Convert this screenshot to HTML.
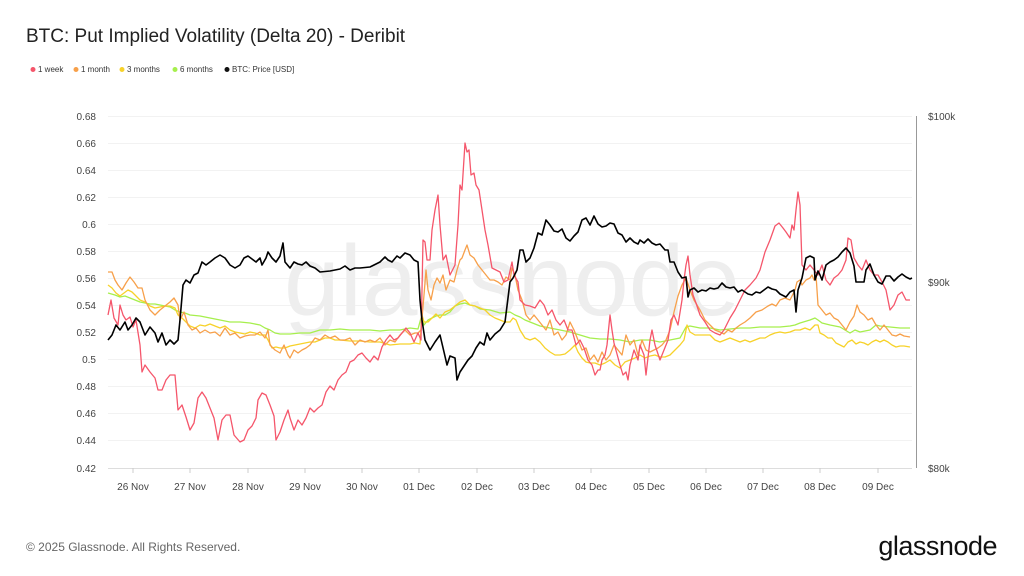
<!DOCTYPE html>
<html><head><meta charset="utf-8"><style>
body{margin:0;background:#fff;}
svg{display:block;font-family:"Liberation Sans",sans-serif;}
</style></head><body>
<svg width="1024" height="576" viewBox="0 0 1024 576" xmlns="http://www.w3.org/2000/svg">
<rect width="1024" height="576" fill="#fff"/>
<text x="26" y="42" font-size="19" fill="#222">BTC: Put Implied Volatility (Delta 20) - Deribit</text>
<g font-size="8" fill="#333">
<circle cx="33" cy="69.5" r="2.5" fill="#f5566b"/><text x="38" y="72">1 week</text>
<circle cx="76" cy="69.5" r="2.5" fill="#f7a04a"/><text x="81" y="72">1 month</text>
<circle cx="122" cy="69.5" r="2.5" fill="#f7d22a"/><text x="127" y="72">3 months</text>
<circle cx="175" cy="69.5" r="2.5" fill="#a6ef4d"/><text x="180" y="72">6 months</text>
<circle cx="227" cy="69.5" r="2.5" fill="#111"/><text x="232" y="72">BTC: Price [USD]</text>
</g>
<g stroke="#f2f2f2" stroke-width="1">
<line x1="108" x2="912" y1="116.5" y2="116.5"/><line x1="108" x2="912" y1="143.5" y2="143.5"/><line x1="108" x2="912" y1="170.5" y2="170.5"/><line x1="108" x2="912" y1="197.5" y2="197.5"/><line x1="108" x2="912" y1="224.5" y2="224.5"/><line x1="108" x2="912" y1="251.5" y2="251.5"/><line x1="108" x2="912" y1="278.5" y2="278.5"/><line x1="108" x2="912" y1="305.5" y2="305.5"/><line x1="108" x2="912" y1="332.5" y2="332.5"/><line x1="108" x2="912" y1="359.5" y2="359.5"/><line x1="108" x2="912" y1="386.5" y2="386.5"/><line x1="108" x2="912" y1="413.5" y2="413.5"/><line x1="108" x2="912" y1="440.5" y2="440.5"/>
</g>
<line x1="108" x2="912" y1="468.5" y2="468.5" stroke="#ddd"/>
<line x1="916.5" x2="916.5" y1="116" y2="468" stroke="#999"/>
<g font-size="10" fill="#444" text-anchor="end">
<text x="96" y="120">0.68</text><text x="96" y="147">0.66</text><text x="96" y="174">0.64</text><text x="96" y="201">0.62</text><text x="96" y="228">0.6</text><text x="96" y="255">0.58</text><text x="96" y="282">0.56</text><text x="96" y="309">0.54</text><text x="96" y="336">0.52</text><text x="96" y="363">0.5</text><text x="96" y="390">0.48</text><text x="96" y="417">0.46</text><text x="96" y="444">0.44</text><text x="96" y="472">0.42</text>
</g>
<g font-size="10" fill="#444">
<text x="928" y="120">$100k</text><text x="928" y="286">$90k</text><text x="928" y="472">$80k</text>
</g>
<g font-size="10" fill="#444" text-anchor="middle">
<text x="133" y="490">26 Nov</text><text x="190" y="490">27 Nov</text><text x="248" y="490">28 Nov</text><text x="305" y="490">29 Nov</text><text x="362" y="490">30 Nov</text><text x="419" y="490">01 Dec</text><text x="477" y="490">02 Dec</text><text x="534" y="490">03 Dec</text><text x="591" y="490">04 Dec</text><text x="649" y="490">05 Dec</text><text x="706" y="490">06 Dec</text><text x="763" y="490">07 Dec</text><text x="820" y="490">08 Dec</text><text x="878" y="490">09 Dec</text>
</g>
<g stroke="#ccc"><line x1="133" x2="133" y1="468" y2="473"/><line x1="190" x2="190" y1="468" y2="473"/><line x1="248" x2="248" y1="468" y2="473"/><line x1="305" x2="305" y1="468" y2="473"/><line x1="362" x2="362" y1="468" y2="473"/><line x1="419" x2="419" y1="468" y2="473"/><line x1="477" x2="477" y1="468" y2="473"/><line x1="534" x2="534" y1="468" y2="473"/><line x1="591" x2="591" y1="468" y2="473"/><line x1="649" x2="649" y1="468" y2="473"/><line x1="706" x2="706" y1="468" y2="473"/><line x1="763" x2="763" y1="468" y2="473"/><line x1="820" x2="820" y1="468" y2="473"/><line x1="878" x2="878" y1="468" y2="473"/></g>
<text x="512" y="315" font-size="100" fill="#eeeeee" text-anchor="middle">glassnode</text>
<g fill="none" stroke-width="1.3" stroke-linejoin="round">
<polyline stroke="#a6ef4d" points="108,293 115,295 120,297 125,296 130,298 135,300 140,302 145,303 150,304 155,304 160,305 165,306 170,307 175,310 180,312 185,313 190,315 200,316 210,318 220,320 230,322 240,322 250,323 260,325 265,328 270,330 275,333 280,334 290,334 300,333 310,333 320,330 330,330 340,329 350,330 360,330 370,330 380,331 390,330 400,330 410,328 418,329 421,318 424,325 428,320 432,318 436,316 440,315 445,315 450,312 455,306 460,304 465,303 470,305 475,306 480,309 490,310 500,313 510,312 515,315 520,317 525,320 530,322 540,326 550,328 560,330 570,332 580,335 590,338 600,339 610,339 620,340 630,342 640,340 650,340 660,342 670,340 680,338 686,327 690,326 700,328 710,328 720,330 730,329 740,328 750,328 760,327 770,327 780,327 790,326 795,325 800,323 810,320 815,318 818,320 822,323 830,325 840,327 845,330 850,333 855,330 860,332 870,330 876,325 880,326 890,327 900,328 910,328"/>
<polyline stroke="#f7d22a" points="108,285 112,288 116,293 120,296 124,293 128,290 132,292 136,296 140,300 145,302 150,306 155,308 160,307 165,306 170,306 175,308 178,315 182,318 186,322 190,326 195,328 200,325 205,326 210,324 215,326 220,328 225,326 230,330 235,332 240,333 245,334 250,332 255,333 260,335 265,335 268,340 272,348 276,347 280,348 285,348 290,346 295,345 300,344 305,343 310,342 315,342 320,340 325,338 330,338 335,340 340,340 350,341 360,341 370,342 380,342 390,345 400,344 410,344 415,343 420,344 422,315 424,322 428,322 432,318 436,314 440,318 445,312 450,310 455,306 460,302 465,300 470,305 475,306 480,308 485,310 490,315 495,318 500,320 505,322 510,322 513,318 516,320 520,330 525,338 530,340 535,338 540,342 545,348 550,352 555,355 560,355 565,354 570,350 575,345 578,352 582,358 586,362 590,363 595,363 600,365 605,363 610,360 615,365 620,368 625,362 630,360 635,358 640,355 645,358 650,356 655,355 660,357 665,357 670,355 675,350 680,345 684,340 687,325 690,332 695,335 700,335 705,335 710,335 715,340 720,342 725,340 730,338 735,340 740,342 745,340 750,342 755,340 760,338 765,338 770,335 775,333 780,332 785,333 790,332 795,330 800,330 805,328 810,330 815,325 818,325 820,333 824,335 828,338 832,338 836,343 840,345 844,347 848,342 852,340 856,344 860,342 864,343 868,345 872,342 876,340 880,342 884,340 888,342 892,345 896,347 900,346 904,346 910,347"/>
<polyline stroke="#f7a04a" points="108,272 112,272 115,280 118,285 122,290 126,283 130,277 134,282 138,288 142,288 145,300 150,310 155,315 160,310 165,306 170,302 174,298 178,305 180,320 184,312 188,325 192,330 196,328 200,333 205,330 210,333 215,332 220,336 225,328 230,335 235,333 240,338 245,336 250,335 255,335 260,332 265,338 268,330 270,345 275,350 280,353 284,345 288,355 290,358 294,350 298,353 302,350 306,348 310,345 315,338 320,340 325,335 330,338 335,336 340,340 345,340 350,338 355,345 360,340 365,342 370,340 375,342 380,338 385,345 390,340 395,342 400,335 405,330 410,335 415,333 418,333 421,330 424,295 426,270 428,290 431,300 434,285 437,278 440,283 443,275 446,290 450,280 454,282 457,270 460,260 462,258 465,250 467,245 470,255 474,258 478,265 482,270 486,275 490,280 494,280 498,282 502,285 506,277 510,280 512,268 515,275 518,290 522,300 526,315 530,320 534,315 538,320 542,325 546,330 550,320 554,335 558,332 562,340 566,335 570,322 574,330 578,340 582,350 586,348 590,360 594,355 598,362 602,352 606,360 610,355 614,345 618,350 622,355 626,335 630,345 634,340 638,355 642,340 646,350 650,352 654,350 658,348 662,345 666,340 670,330 674,312 678,296 682,285 686,278 690,290 694,300 700,310 705,320 710,325 715,330 720,332 724,334 728,330 732,332 736,328 740,325 745,322 750,318 756,312 762,310 768,306 772,304 776,306 780,300 785,298 790,300 795,290 797,282 800,280 802,285 806,280 810,278 812,275 814,280 816,275 818,305 822,310 826,315 830,313 834,318 838,320 842,325 846,330 850,322 854,316 857,305 860,312 864,315 868,320 872,318 876,325 880,330 884,325 888,330 892,335 896,336 900,334 904,336 910,337"/>
<polyline stroke="#f5566b" points="108,315 111,300 114,318 118,325 120,305 123,315 126,320 130,317 133,327 136,320 140,345 142,372 145,365 150,372 155,378 158,390 162,390 166,380 170,375 175,375 178,410 182,405 186,417 190,430 194,423 198,398 202,392 206,398 210,408 214,418 218,440 222,420 226,415 230,415 234,435 240,442 244,440 248,430 252,426 256,418 258,400 262,393 266,395 270,405 274,416 276,440 280,432 284,420 288,410 290,418 294,430 298,420 302,425 306,418 310,408 314,412 318,408 322,405 326,392 330,386 334,390 338,380 342,375 346,372 350,362 354,360 358,355 362,353 366,358 370,362 374,356 378,360 382,347 386,340 390,335 394,340 398,338 402,333 406,328 410,333 414,342 418,333 421,340 423,240 425,242 427,260 430,260 432,230 435,210 438,195 440,225 443,260 446,255 450,275 455,265 458,225 460,185 462,190 465,143 467,152 469,150 471,175 474,173 476,185 479,190 482,210 485,230 488,245 492,268 496,270 500,272 504,282 508,280 512,262 514,275 518,282 520,300 525,305 530,306 535,308 540,300 544,305 548,315 552,310 556,320 560,325 564,320 568,330 572,330 576,345 580,340 584,348 588,360 592,365 595,375 598,370 600,370 602,360 605,355 607,345 610,315 612,330 614,343 617,354 620,365 623,375 626,372 628,380 630,365 634,350 638,360 640,345 644,355 646,375 650,340 652,330 655,345 660,360 664,350 668,340 671,320 674,315 678,325 682,300 684,280 686,265 688,256 690,275 693,295 696,303 700,315 705,322 710,330 715,333 720,335 724,330 730,318 735,310 740,300 745,290 750,285 756,278 760,270 765,252 770,240 775,226 779,223 783,228 786,232 790,238 792,225 794,230 796,210 798,192 800,205 802,265 806,270 810,265 814,270 818,275 822,265 826,280 830,285 834,278 838,275 842,270 846,260 848,238 851,240 854,258 858,265 862,270 866,260 870,270 874,275 878,275 882,282 886,290 890,310 894,305 898,295 902,292 906,300 910,300"/>
<polyline stroke="#000" stroke-width="1.6" points="108,340 112,335 116,325 120,330 125,322 128,330 132,325 136,318 140,322 145,335 150,327 155,333 158,342 162,333 166,345 170,340 174,344 178,340 180,320 183,285 186,280 190,283 194,275 198,273 202,262 206,265 210,262 215,258 220,255 225,258 230,265 235,268 240,265 244,258 248,256 252,259 256,262 260,258 262,265 266,258 268,252 272,258 276,262 280,256 283,243 285,262 290,268 294,262 298,264 302,265 306,262 310,266 315,268 320,272 330,271 340,269 345,266 350,270 355,268 360,268 370,267 380,262 385,257 388,260 392,262 397,256 400,258 405,253 410,255 414,260 418,262 420,300 422,320 425,340 430,350 435,342 440,335 444,352 447,365 450,356 455,358 457,380 460,372 464,366 468,360 472,356 476,348 480,342 484,345 487,333 490,340 495,334 500,330 505,322 510,282 513,278 517,270 520,250 523,250 526,262 530,258 534,248 538,233 542,235 546,220 550,225 554,231 558,232 562,229 566,238 570,241 574,236 578,232 582,220 586,218 590,225 594,216 598,224 602,227 606,226 610,223 614,224 618,233 622,235 626,242 630,238 634,242 638,244 640,240 644,243 648,239 652,243 656,245 660,244 665,250 668,250 670,262 674,262 678,272 682,278 686,277 688,297 690,290 694,288 698,292 702,290 706,291 710,288 714,289 718,288 722,283 726,287 730,288 734,287 738,292 742,290 748,294 752,295 756,292 760,293 764,290 768,287 772,289 776,290 780,294 784,296 786,297 790,292 794,290 796,312 798,290 802,278 806,258 810,256 814,258 815,280 818,271 820,275 822,280 826,265 830,262 834,260 838,257 842,252 846,248 850,253 854,266 856,282 860,282 864,282 866,270 870,264 874,275 878,282 882,284 886,276 890,276 894,281 898,277 902,274 906,277 910,279 912,278"/>
</g>
<text x="26" y="551" font-size="12" fill="#666">© 2025 Glassnode. All Rights Reserved.</text>
<text x="997" y="555" font-size="27" fill="#111" text-anchor="end" letter-spacing="-0.5">glassnode</text>
</svg>
</body></html>
